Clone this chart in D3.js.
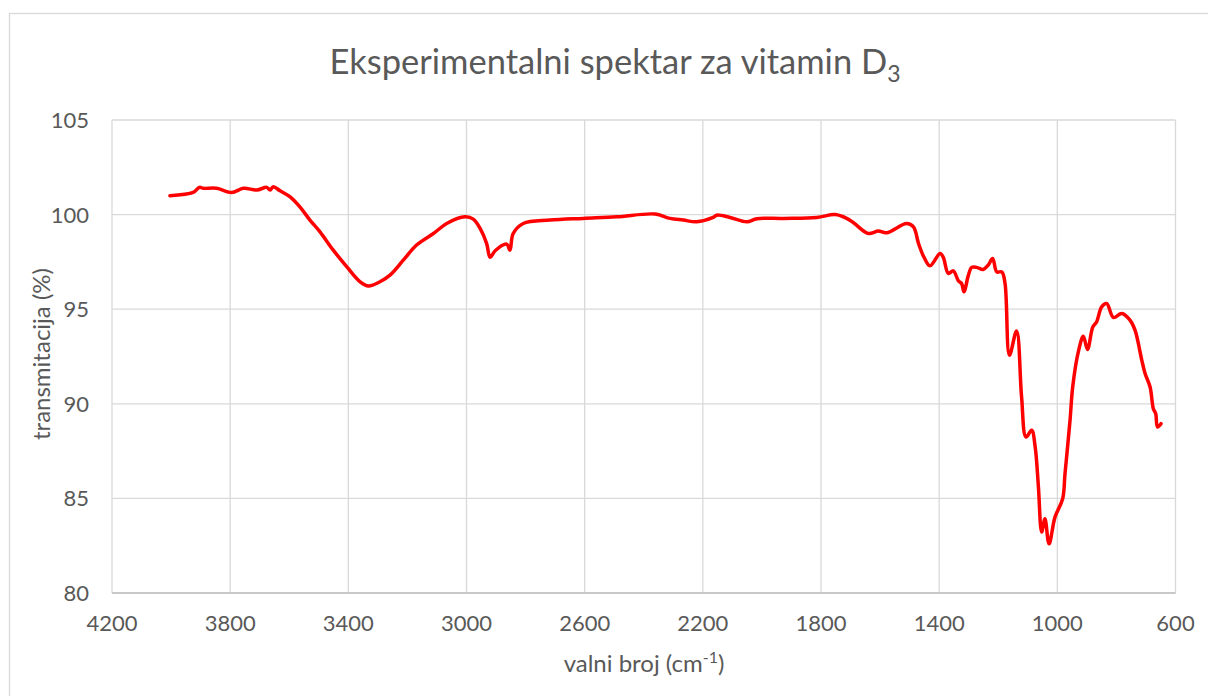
<!DOCTYPE html>
<html>
<head>
<meta charset="utf-8">
<script src="https://cdn.jsdelivr.net/npm/d3@7"></script>
<style>
body { margin: 0; background: #fff; }
text { font-family: Lato, "Open Sans", sans-serif; fill: #595959; }
</style>
</head>
<body>
<script>
// spectrum: wavenumber (cm-1) and transmittance (%)
var wavenumber = [4004, 3925, 3904, 3891, 3846, 3795, 3755, 3710, 3676, 3665, 3654, 3631, 3597, 3564, 3530, 3496, 3451, 3405, 3360, 3332, 3293, 3259, 3214, 3169, 3112, 3067, 3005, 2977, 2954, 2932, 2920, 2903, 2864, 2853, 2842, 2808, 2717, 2605, 2492, 2362, 2311, 2266, 2221, 2165, 2153, 2108, 2051, 2017, 1927, 1814, 1752, 1713, 1690, 1640, 1606, 1578, 1510, 1487, 1470, 1453, 1431, 1397, 1386, 1369, 1352, 1335, 1324, 1316, 1301, 1290, 1273, 1251, 1234, 1219, 1205, 1188, 1177, 1162, 1138, 1121, 1106, 1087, 1075, 1064, 1053, 1042, 1028, 1008, 982, 974, 957, 948, 929, 912, 898, 880, 867, 850, 833, 810, 782, 754, 737, 714, 703, 686, 675, 667, 661, 649];
var transmittance = [101.0, 101.17, 101.44, 101.39, 101.39, 101.17, 101.39, 101.3, 101.44, 101.3, 101.47, 101.26, 100.94, 100.41, 99.71, 99.09, 98.12, 97.24, 96.45, 96.23, 96.45, 96.8, 97.59, 98.39, 99.0, 99.53, 99.88, 99.76, 99.27, 98.48, 97.74, 98.09, 98.44, 98.12, 99.0, 99.53, 99.71, 99.8, 99.88, 100.03, 99.8, 99.71, 99.62, 99.85, 99.97, 99.85, 99.62, 99.78, 99.8, 99.85, 100.0, 99.8, 99.57, 99.0, 99.13, 99.04, 99.53, 99.35, 98.48, 97.8, 97.29, 97.95, 97.74, 96.89, 97.03, 96.5, 96.36, 95.92, 96.8, 97.21, 97.21, 97.1, 97.33, 97.68, 96.97, 96.97, 96.36, 92.57, 93.85, 90.36, 88.24, 88.6, 87.72, 85.6, 83.22, 83.92, 82.6, 84.01, 84.98, 86.31, 89.13, 90.89, 92.74, 93.57, 92.87, 94.06, 94.33, 95.12, 95.3, 94.56, 94.77, 94.42, 93.89, 92.3, 91.6, 90.89, 89.74, 89.48, 88.77, 88.95];
var xTicks = [4200, 3800, 3400, 3000, 2600, 2200, 1800, 1400, 1000, 600];
var yTicks = [80, 85, 90, 95, 100, 105];

var W = 1208, H = 696;
var plotLeft = 112, plotRight = 1175.5, plotTop = 120, plotBottom = 593;

var svg = d3.select("body").append("svg")
	.attr("width", W)
	.attr("height", H);

// outer chart border
svg.append("rect")
	.attr("x", 9.5).attr("y", 13.5)
	.attr("width", W).attr("height", H)
	.attr("fill", "none").attr("stroke", "#d9d9d9").attr("stroke-width", 1.3);

var x = d3.scaleLinear().domain([4200, 600]).range([plotLeft, plotRight]);
var y = d3.scaleLinear().domain([80, 105]).range([plotBottom, plotTop]);

// gridlines
svg.append("g").selectAll("line").data(xTicks).enter().append("line")
	.attr("x1", d => x(d)).attr("x2", d => x(d))
	.attr("y1", plotTop).attr("y2", plotBottom)
	.attr("stroke", "#d9d9d9").attr("stroke-width", 1.3);

svg.append("g").selectAll("line").data(yTicks).enter().append("line")
	.attr("x1", plotLeft).attr("x2", plotRight)
	.attr("y1", d => y(d)).attr("y2", d => y(d))
	.attr("stroke", "#d9d9d9").attr("stroke-width", 1.3);

// axis bottom line a bit darker
svg.append("line")
	.attr("x1", plotLeft).attr("x2", plotRight)
	.attr("y1", plotBottom).attr("y2", plotBottom)
	.attr("stroke", "#bfbfbf").attr("stroke-width", 1.3);

// tick labels
svg.append("g").selectAll("text").data(xTicks).enter().append("text")
	.attr("x", d => x(d)).attr("y", 631)
	.attr("text-anchor", "middle")
	.attr("font-size", 22)
	.text(d => d);

svg.append("g").selectAll("text").data(yTicks).enter().append("text")
	.attr("x", 89).attr("y", d => y(d) + 8)
	.attr("text-anchor", "end")
	.attr("font-size", 22)
	.text(d => d);

// curve
var pts = wavenumber.map((w, i) => [w, transmittance[i]]);
var line = d3.line()
	.x(d => x(d[0]))
	.y(d => y(d[1]))
	.curve(d3.curveCatmullRom.alpha(0.5));

svg.append("path")
	.datum(pts)
	.attr("d", line)
	.attr("fill", "none")
	.attr("stroke", "#ff0000")
	.attr("stroke-width", 3.5)
	.attr("stroke-linejoin", "round")
	.attr("stroke-linecap", "round");

// title
var title = svg.append("text")
	.attr("x", 615).attr("y", 74)
	.attr("text-anchor", "middle")
	.attr("font-size", 34.5);
title.append("tspan").text("Eksperimentalni spektar za vitamin D");
title.append("tspan").attr("font-size", 23).attr("dy", 8).text("3");

// axis titles
var xt = svg.append("text")
	.attr("x", 644).attr("y", 672)
	.attr("text-anchor", "middle")
	.attr("font-size", 24);
xt.append("tspan").text("valni broj (cm");
xt.append("tspan").attr("font-size", 16).attr("dy", -9).text("-1");
xt.append("tspan").attr("dy", 9).text(")");

svg.append("text")
	.attr("transform", "translate(50,354) rotate(-90)")
	.attr("text-anchor", "middle")
	.attr("font-size", 24)
	.text("transmitacija (%)");
</script>
</body>
</html>
